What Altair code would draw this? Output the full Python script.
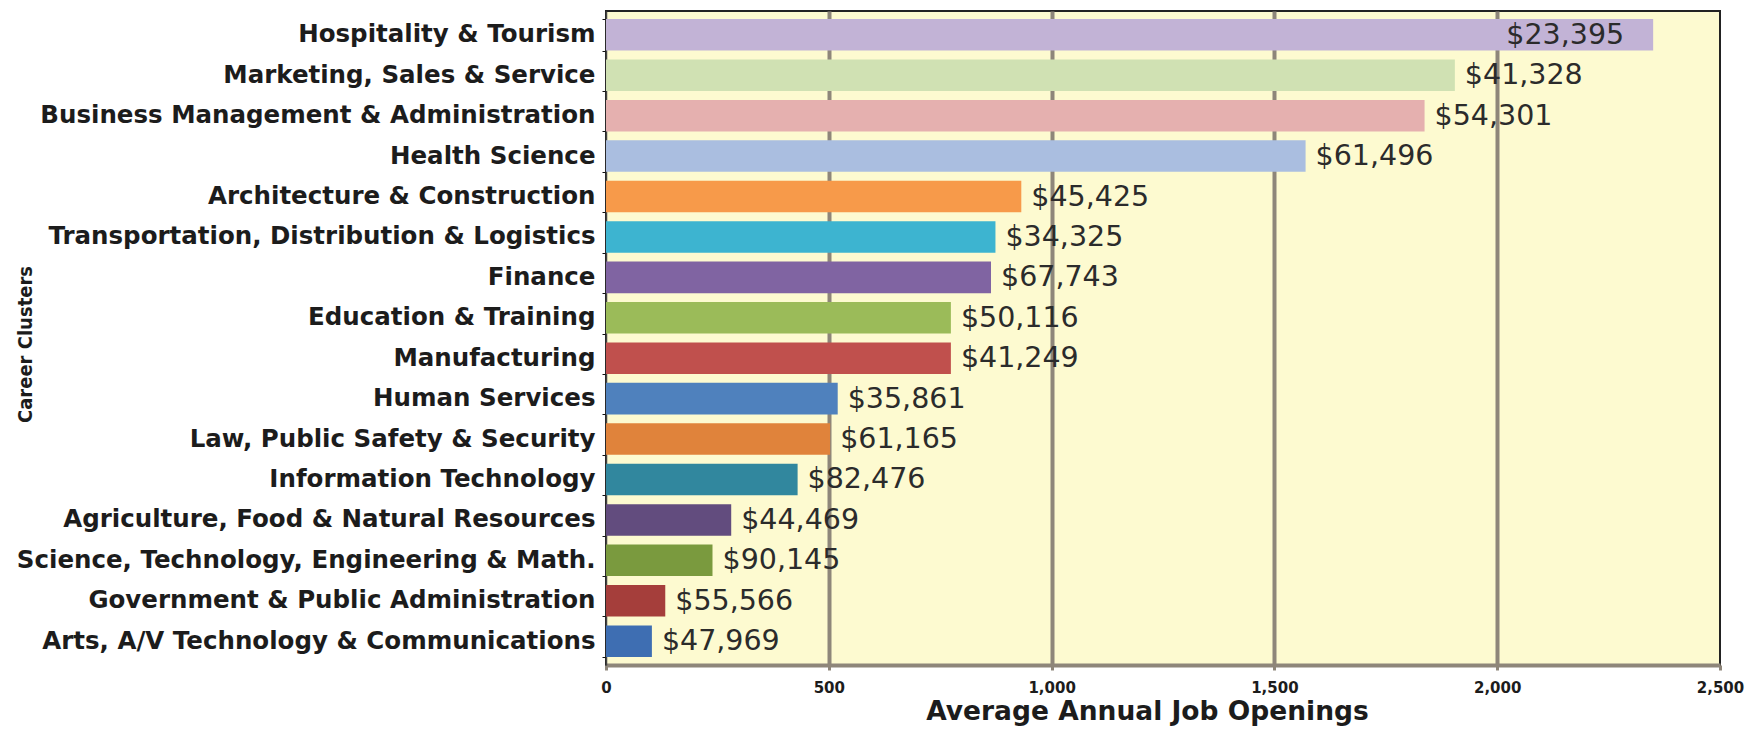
import altair as alt
import pandas as pd

categories = [
    "Hospitality & Tourism",
    "Marketing, Sales & Service",
    "Business Management & Administration",
    "Health Science",
    "Architecture & Construction",
    "Transportation, Distribution & Logistics",
    "Finance",
    "Education & Training",
    "Manufacturing",
    "Human Services",
    "Law, Public Safety & Security",
    "Information Technology",
    "Agriculture, Food & Natural Resources",
    "Science, Technology, Engineering & Math.",
    "Government & Public Administration",
    "Arts, A/V Technology & Communications",
]
openings = [2350, 1905, 1837, 1570, 932, 874, 864, 774, 774, 520, 503, 430, 281, 239, 133, 103]
wages = ["$23,395", "$41,328", "$54,301", "$61,496", "$45,425", "$34,325", "$67,743", "$50,116",
         "$41,249", "$35,861", "$61,165", "$82,476", "$44,469", "$90,145", "$55,566", "$47,969"]
colors = ["#C2B3D6", "#D0E1B3", "#E5B0AF", "#AABEE0", "#F79A4A", "#3DB4D0", "#8064A2", "#9BBB59",
          "#C0504D", "#4F81BD", "#E0833B", "#31879E", "#624C7E", "#7A9A3E", "#A53E3B", "#3E6EB2"]
tick_values = [0, 500, 1000, 1500, 2000, 2500]

df = pd.DataFrame({"cluster": categories, "openings": openings, "wage": wages})

grid_c = "#8E867A"

y_enc = alt.Y(
    "cluster:N",
    sort=categories,
    scale=alt.Scale(paddingInner=0.22, paddingOuter=0.2),
    axis=alt.Axis(
        title="Career Clusters",
        labelFont="DejaVu Sans", labelFontWeight="bold", labelFontSize=24.5, labelColor="#1c1c1c",
        labelPadding=7, labelLimit=800, tickBand="extent", tickSize=4, tickColor="#111",
        domainColor="#444", domainWidth=1.5,
        titleFont="DejaVu Sans Condensed, Roboto Condensed, Roboto, Liberation Sans",
        titleFontSize=20, titleFontWeight="bold", titleColor="#1c1c1c",
        titleX=-581, titleY=333, titleAngle=270, titleAlign="center", titleBaseline="middle",
        grid=False,
    ),
)
x_enc = alt.X(
    "openings:Q",
    scale=alt.Scale(domain=[0, 2500], nice=False),
    axis=alt.Axis(
        values=tick_values, format=",.0f", title="Average Annual Job Openings",
        labelFont="DejaVu Sans", labelFontWeight="bold", labelFontSize=15, labelColor="#1c1c1c",
        labelBaseline="middle", labelPadding=17, labelFlush=False,
        tickSize=5, tickColor=grid_c, tickWidth=3,
        domainColor=grid_c, domainWidth=4,
        grid=True, gridColor=grid_c, gridWidth=4,
        gridOpacity={"condition": {"test": "datum.value == 0 || datum.value == 2500", "value": 0}, "value": 1},
        titleFont="DejaVu Sans", titleFontSize=26.5, titleFontWeight="bold", titleColor="#1c1c1c",
        titleX=541, titleY=54, titleBaseline="alphabetic", titleAlign="center",
    ),
)

base = alt.Chart(df)
bars = base.mark_bar().encode(
    y=y_enc,
    x=x_enc,
    color=alt.Color("cluster:N", scale=alt.Scale(domain=categories, range=colors), legend=None),
)
labels_out = base.transform_filter("datum.openings < 2200").mark_text(
    align="left", baseline="middle", dx=10, font="DejaVu Sans", fontSize=28.5, color="#2b2b2b"
).encode(y=alt.Y("cluster:N", sort=categories), x=alt.X("openings:Q"), text="wage:N")
labels_in = base.transform_filter("datum.openings >= 2200").mark_text(
    align="right", baseline="middle", dx=-29, font="DejaVu Sans", fontSize=28.5, color="#2b2b2b"
).encode(y=alt.Y("cluster:N", sort=categories), x=alt.X("openings:Q"), text="wage:N")

chart = (
    alt.layer(bars, labels_out, labels_in)
    .properties(
        width=1114, height=654,
        autosize=alt.AutoSizeParams(type="none"),
        padding={"left": 606, "top": 11, "right": 39, "bottom": 66},
        background="white",
    )
    .configure_view(stroke="#222", strokeWidth=2, fill="#FDFAD0")
)

chart.save("out.html", embed_options={"renderer": "svg", "actions": False})
